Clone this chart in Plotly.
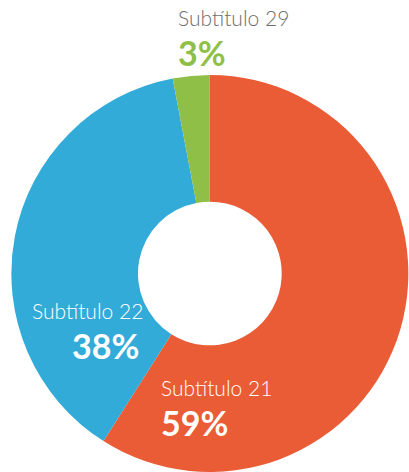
import plotly.graph_objects as go

labels = ["Subtítulo 21", "Subtítulo 22", "Subtítulo 29"]
values = [59, 38, 3]
colors = ["#EA5C36", "#33ABD9", "#8FBF46"]
pct_text = ["59%", "38%", "3%"]

W, H = 409, 472

fig = go.Figure(go.Pie(
    labels=labels,
    values=values,
    marker=dict(colors=colors, line=dict(width=0)),
    hole=0.362,
    sort=False,
    direction="clockwise",
    rotation=0,
    textinfo="none",
    hoverinfo="label+percent",
    domain=dict(x=[10.7 / W, 1.0], y=[0.0, 1 - 75 / H]),
    showlegend=False,
))

sub_font = dict(family="Lato", size=21, weight=300)
pct_font = dict(family="Lato", size=34, weight=700)

# (subtitle, pct, x px, anchor, boundary y px between the two lines, subtitle colour, pct colour)
blocks = [
    (labels[0], pct_text[0], 160, "left", 400.5, "white", "white"),
    (labels[1], pct_text[1], 144, "right", 323.5, "white", "white"),
    (labels[2], pct_text[2], 177, "left", 31.0, "#6E6E6E", colors[2]),
]

annos = []
for sub, pct, x, anc, b, sc, pc in blocks:
    xx = x / W
    yy = 1 - b / H
    annos.append(dict(text=sub, x=xx, y=yy, xanchor=anc, yanchor="bottom",
                      xref="paper", yref="paper", showarrow=False, borderpad=0,
                      font=dict(**sub_font, color=sc)))
    annos.append(dict(text=pct, x=xx - (4 / W if anc == "right" else 0), y=yy,
                      xanchor=anc, yanchor="top",
                      xref="paper", yref="paper", showarrow=False, borderpad=0,
                      font=dict(**pct_font, color=pc)))

fig.update_layout(
    width=W, height=H,
    margin=dict(l=0, r=0, t=0, b=0),
    paper_bgcolor="white",
    plot_bgcolor="white",
    annotations=annos,
)

fig.write_html(
    "out.html",
    config={"displayModeBar": False},
    post_script="document.body.style.margin='0';"
                "document.documentElement.style.overflow='hidden';"
                "document.body.style.overflow='hidden';",
)
